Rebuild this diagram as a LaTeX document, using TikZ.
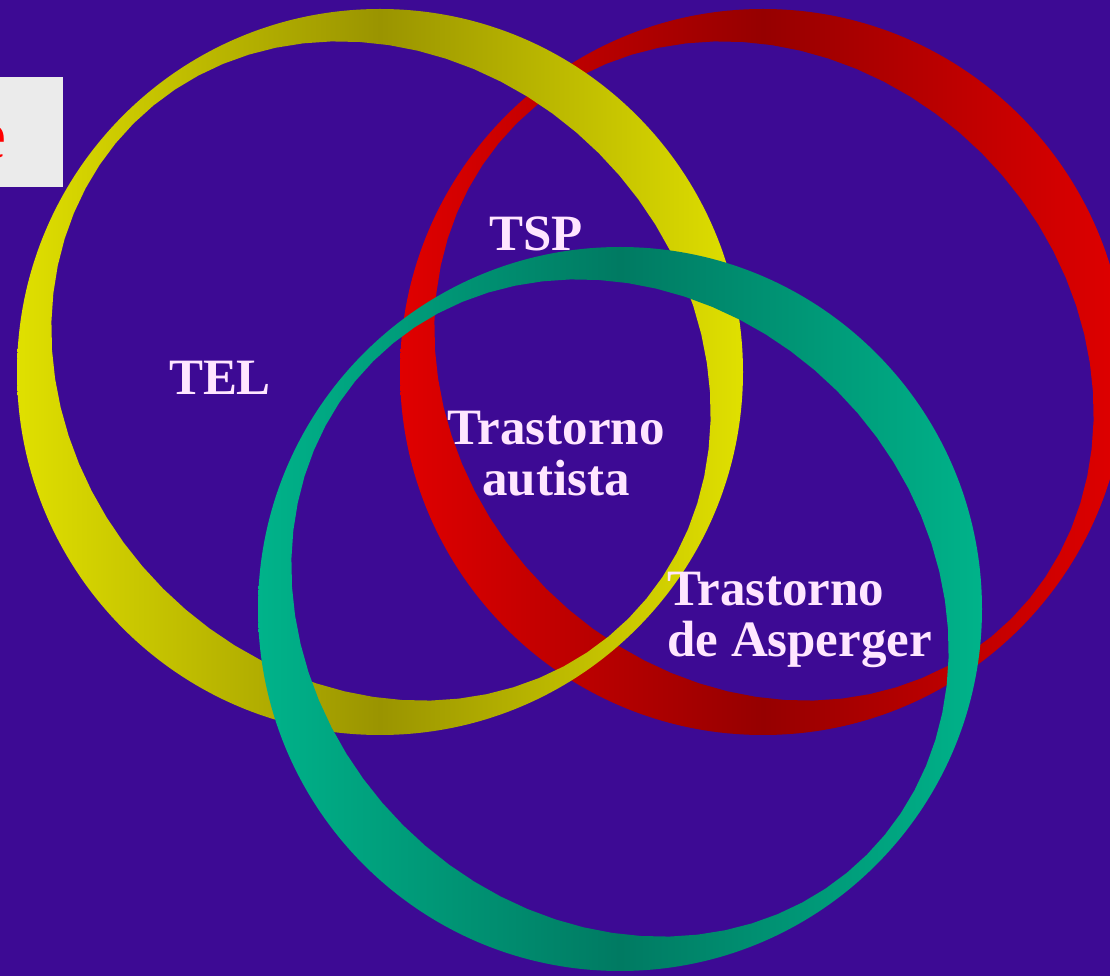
\documentclass[tikz,border=0pt]{standalone}
\usepackage{fontspec}
\setmainfont{Liberation Serif}
\definecolor{bgpurple}{HTML}{3D0A94}
\definecolor{boxgray}{HTML}{EBEBEB}
\definecolor{labelpink}{HTML}{FFE6FF}
\definecolor{yelB}{HTML}{E0E000}
\definecolor{yelD}{HTML}{9A9400}
\definecolor{redB}{HTML}{E00000}
\definecolor{redD}{HTML}{960000}
\definecolor{tealB}{HTML}{00B38A}
\definecolor{tealD}{HTML}{007A62}
\begin{document}
\begin{tikzpicture}[x=0.02cm,y=-0.02cm,
  ring/.style={even odd rule},
  lbl/.style={text=labelpink,font=\fontsize{29}{29}\selectfont\bfseries,inner sep=0pt}]
\useasboundingbox (0,0) rectangle (1110,976);
\clip (0,0) rectangle (1110,976);
\fill[bgpurple] (0,0) rectangle (1110,976); %background

\fill[boxgray] (-5,77) rectangle (63,187); %title box
\node[text=red,font=\fontsize{40}{40}\selectfont,anchor=base east,inner sep=0pt] (title) at (7,159) {e};

% rings: outer circle, inner ellipse tilted along NW-SE
\shade[ring,left color=redB,right color=redB,middle color=redD] (763,372) circle (363)
  plot[domain=0:360,samples=73,variable=\t] ({764+0.7071*(350*cos(\t)-308*sin(\t))},{371+0.7071*(350*cos(\t)+308*sin(\t))}) -- cycle; %red
\shade[ring,left color=yelB,right color=yelB,middle color=yelD] (380,372) circle (363)
  plot[domain=0:360,samples=73,variable=\t] ({381+0.7071*(350*cos(\t)-308*sin(\t))},{371+0.7071*(350*cos(\t)+308*sin(\t))}) -- cycle; %yellow
\shade[ring,left color=tealB,right color=tealB,middle color=tealD] (620,609) circle (362)
  plot[domain=0:360,samples=73,variable=\t] ({620+0.7071*(349*cos(\t)-307*sin(\t))},{608+0.7071*(349*cos(\t)+307*sin(\t))}) -- cycle; %teal

\node[lbl,anchor=base] (tsp) at (536,251) {TSP};
\node[lbl,anchor=base] (tel) at (220,395) {TEL};
\node[lbl,align=center] (autista) at (556,454) {Trastorno\\autista};
\node[lbl,align=left,anchor=west] (asperger) at (667,620) {Trastorno\\de Asperger};

\end{tikzpicture}
\end{document}
